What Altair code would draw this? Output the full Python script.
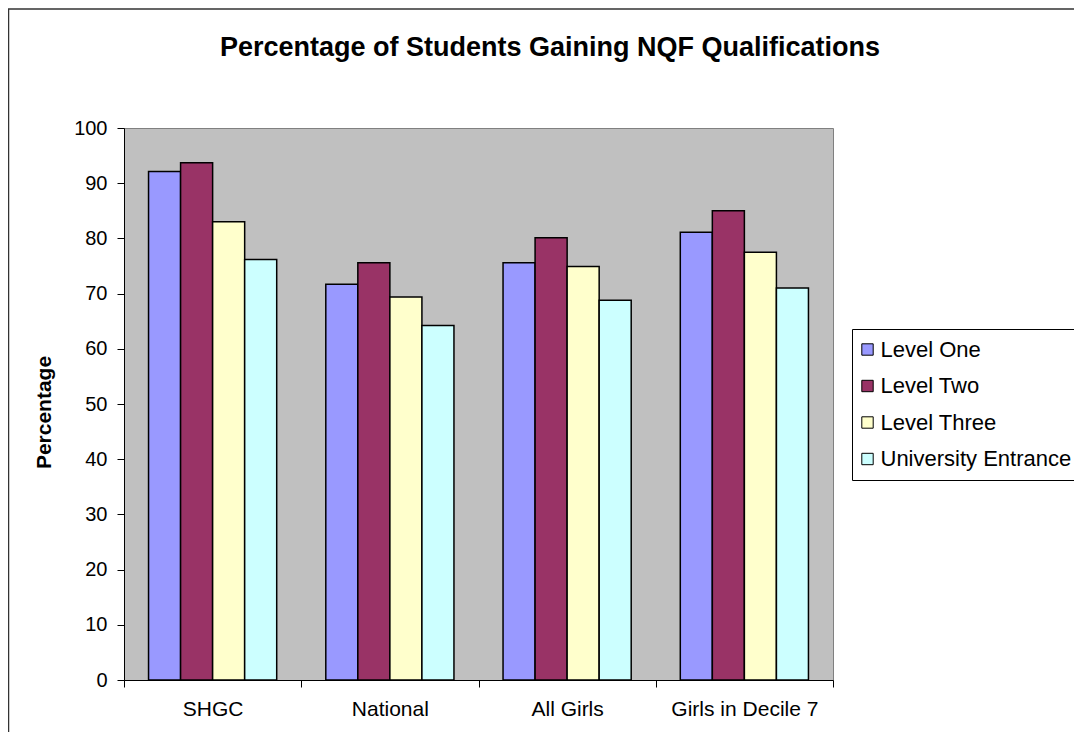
import altair as alt
import pandas as pd

categories = ["SHGC", "National", "All Girls", "Girls in Decile 7"]
series = ["Level One", "Level Two", "Level Three", "University Entrance"]
level_one = [92.1, 71.7, 75.6, 81.1]
level_two = [93.7, 75.6, 80.1, 85.0]
level_three = [83.0, 69.4, 74.9, 77.5]
university_entrance = [76.2, 64.2, 68.8, 71.0]
colors = ["#9999FF", "#993366", "#FFFFCC", "#CCFFFF"]
y_ticks = list(range(0, 101, 10))

rows = []
for s, vals in zip(series, [level_one, level_two, level_three, university_entrance]):
    for c, v in zip(categories, vals):
        rows.append({"School": c, "Series": s, "Percentage": v})
df = pd.DataFrame(rows)

W, H = 709, 552
FONT = "Liberation Sans"

bars = alt.Chart(df).mark_bar(stroke="black", strokeWidth=1.5).encode(
    x=alt.X(
        "School:N",
        sort=categories,
        scale=alt.Scale(paddingInner=0, paddingOuter=0),
        axis=alt.Axis(
            title=None, labelAngle=0, tickBand="extent", tickSize=7,
            labelPadding=11, labelFontSize=21, labelFont=FONT,
            labelColor="black", domainColor="black", tickColor="black",
        ),
    ),
    xOffset=alt.XOffset(
        "Series:N", sort=series,
        scale=alt.Scale(paddingInner=0, paddingOuter=0.766),
    ),
    y=alt.Y(
        "Percentage:Q",
        scale=alt.Scale(domain=[0, 100], nice=False),
        axis=alt.Axis(
            values=y_ticks, grid=False, tickSize=7, labelPadding=10,
            labelFontSize=20, labelFont=FONT, labelColor="black",
            domainColor="black", tickColor="black",
            title="Percentage", titleFontSize=21, titleFont=FONT,
            titleFontWeight="bold", titleColor="black", titleAngle=270,
            titleX=-74, titleY=284, titleAlign="center",
            titleBaseline="alphabetic",
        ),
    ),
    color=alt.Color(
        "Series:N",
        sort=series,
        scale=alt.Scale(domain=series, range=colors),
        legend=alt.Legend(
            title=None, orient="none", legendX=728, legendY=201,
            labelFontSize=22, labelFont=FONT, labelColor="black",
            labelLimit=400, labelOffset=2, symbolOffset=-5,
            symbolType="square", symbolSize=130,
            symbolStrokeColor="black", symbolStrokeWidth=1,
            strokeColor="black", fillColor="white",
            padding=9.5, rowPadding=14.5,
        ),
    ),
)

frame = alt.Chart(pd.DataFrame({"f": [0]})).mark_rect(
    fillOpacity=0, stroke="#333333", strokeWidth=1.5
).encode(
    x=alt.value(-115.5), x2=alt.value(W + 400),
    y=alt.value(-119), y2=alt.value(H + 300),
)

chart = alt.layer(frame, bars).properties(
    width=W,
    height=H,
    padding={"left": 116, "top": 120, "right": 241, "bottom": 52},
    autosize="none",
    background="white",
    title=alt.TitleParams(
        text="Percentage of Students Gaining NQF Qualifications",
        fontSize=27, fontWeight="bold", font=FONT, color="black",
        anchor="middle", frame="group", dx=71.5, offset=-75,
        baseline="alphabetic",
    ),
).configure_view(
    fill="#C0C0C0", stroke="#808080", strokeWidth=1
)

chart.save("out.html", embed_options={"renderer": "svg", "actions": False})
